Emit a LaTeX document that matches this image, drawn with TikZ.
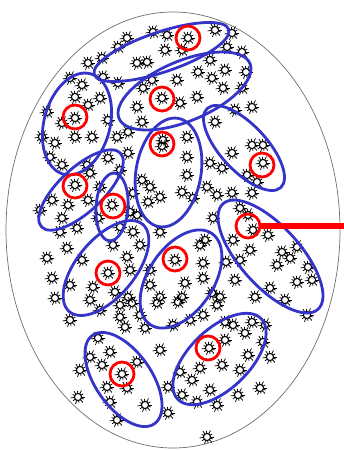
\documentclass[tikz,border=0pt]{standalone}
\definecolor{ellblue}{RGB}{52,52,200}
\definecolor{rimgray}{RGB}{110,110,110}
\tikzset{
  rim/.style={draw=rimgray, line width=0.7pt},
  blueell/.style={draw=ellblue, line width=2.8pt},
  redc/.style={circle, draw=red, line width=2.8pt, minimum size=24pt, inner sep=0pt},
  redline/.style={draw=red, line width=6.5pt},
  spk/.pic={
    \draw[line width=1.1pt] (0,0) circle (3.6pt);
    \foreach \a/\l in {0/7.2,30/6.0,62/7.4,95/6.2,125/7.3,155/5.9,187/7.5,218/6.1,250/7.2,280/5.8,312/7.4,340/6.0}
      \draw[line width=0.75pt] (\a:3.6pt) -- (\a:\l pt);
  }
}
\newcommand\bell[5]{\draw[blueell, shift={(#1,#2)}, rotate=#5] (0,0) ellipse [x radius=#3pt, y radius=#4pt];}
\begin{document}
\begin{tikzpicture}[x=1pt,y=-1pt]
\useasboundingbox (0,0) rectangle (344,450);
% outer ellipse
\draw[rim] (173,230) ellipse [x radius=167pt, y radius=218pt];
% stars
\foreach \x/\y in {
127/38,153/32,167/35,188/38,215/30,232/33,88/63,102/58,137/63,147/62,165/50,182/50,210/60,227/47,242/52,
70/78,82/85,103/77,118/83,152/80,177/80,212/78,225/70,223/88,242/88,75/97,88/105,137/107,162/98,180/103,197/97,
75/118,62/123,42/137,55/143,75/137,92/137,108/120,117/137,128/132,163/140,162/146,187/137,215/122,235/110,252/107,252/145,263/145,
50/157,62/165,87/165,108/158,128/153,90/173,75/185,52/200,68/205,88/200,100/187,112/205,130/212,133/193,62/218,77/228,120/227,133/232,113/245,
142/180,150/187,160/197,148/202,182/192,193/198,187/175,187/157,207/187,217/195,210/163,222/168,232/153,247/175,263/163,257/182,252/193,
240/208,248/215,253/230,213/218,160/232,233/240,240/260,250/250,268/235,282/252,297/247,277/265,290/258,308/267,297/282,312/280,270/288,
47/258,67/248,82/260,52/278,70/285,127/257,130/270,108/273,93/287,115/292,128/297,175/260,203/263,203/278,185/283,182/297,160/297,212/293,220/297,255/297,
100/310,120/305,132/303,140/315,157/303,178/302,203/315,217/305,173/325,125/327,145/328,225/322,233/325,252/322,245/333,225/340,263/342,248/355,270/357,
209/348,222/365,200/368,180/372,192/380,210/390,168/387,197/402,217/405,260/388,307/315,98/338,110/352,90/357,102/365,80/370,137/362,122/374,107/387,127/388,
78/397,168/413,117/420,207/437,
118/47,143/88,198/72,246/72,100/98,47/112,142/122,120/170,98/218,137/215,232/193,205/240,226/262,200/245,140/245,60/232,40/210,
150/270,90/300,150/285,235/280,285/300,55/298,120/317,190/320,265/325,240/370,182/395,160/350,70/320,110/402,238/395,145/405}
  \pic at (\x,\y) {spk};
% blue ellipses
\bell{161.5}{52}{71}{20}{18.6}
\bell{184.5}{91}{71}{30}{22.8}
\bell{77}{124}{52}{33}{75}
\bell{168.5}{172.5}{55}{32.5}{80}
\bell{244}{148}{54}{23}{-47}
\bell{81}{190}{54}{22}{43}
\bell{112}{207}{34}{16}{86}
\bell{106}{268}{57}{29}{50}
\bell{181}{279}{55}{32.5}{56}
\bell{270.5}{256.5}{71}{30}{-48}
\bell{123.5}{379.5}{54}{28}{-55}
\bell{219.5}{359}{58}{30}{44}
% red circles
\node[redc] (r1) at (188,38) {};
\node[redc] (r2) at (162,99) {};
\node[redc] (r3) at (75,117) {};
\node[redc] (r4) at (162,144) {};
\node[redc] (r5) at (262,165) {};
\node[redc] (r6) at (75,186) {};
\node[redc] (r7) at (113,206) {};
\node[redc] (r8) at (248,226) {};
\node[redc] (r9) at (175,259) {};
\node[redc] (r10) at (108,273) {};
\node[redc] (r11) at (208,348) {};
\node[redc] (r12) at (122,374) {};
\coordinate (edge) at (344,226);
\draw[redline] (r8.east) -- (edge);
\end{tikzpicture}
\end{document}
